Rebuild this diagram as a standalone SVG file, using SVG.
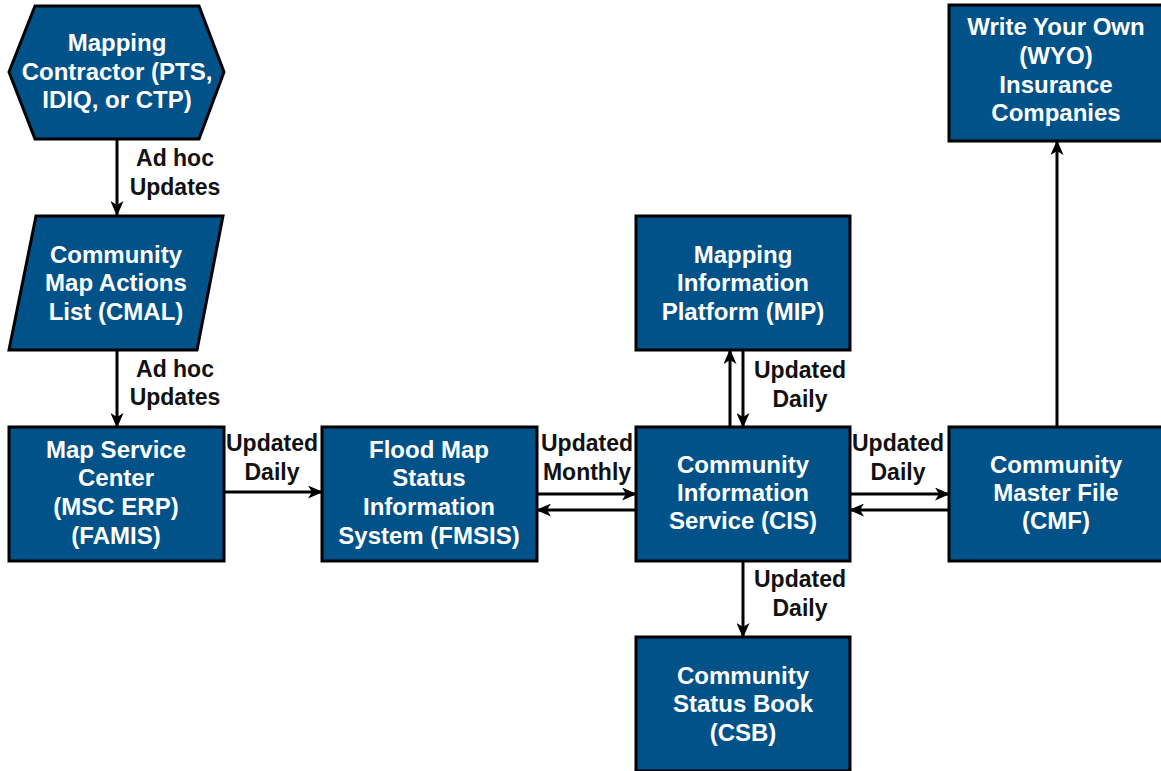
<svg xmlns="http://www.w3.org/2000/svg" width="1161" height="771" viewBox="0 0 1161 771">
<style>
.n{fill:#02528a;stroke:#000;stroke-width:3}
.t{font-family:"Liberation Sans",Arial,sans-serif;font-weight:bold;font-size:24px;fill:#fff;text-anchor:middle}
.l{font-family:"Liberation Sans",Arial,sans-serif;font-weight:bold;font-size:23px;fill:#111;text-anchor:middle}
.c{stroke:#000;stroke-width:3;fill:none;marker-end:url(#a)}
</style>
<defs>
<marker id="a" viewBox="0 0 15 13" refX="14" refY="6.5" markerWidth="15" markerHeight="13" markerUnits="userSpaceOnUse" orient="auto">
<path d="M0,0 L15,6.5 L0,13 L4,6.5 Z" fill="#000"/>
</marker>
</defs>
<rect width="1161" height="771" fill="#fff"/>
<g id="connectors">
<line class="c" x1="117" y1="139" x2="117" y2="215"/>
<line class="c" x1="117" y1="350" x2="117" y2="427"/>
<line class="c" x1="224" y1="492" x2="322" y2="492"/>
<line class="c" x1="537" y1="494" x2="636" y2="494"/>
<line class="c" x1="636" y1="510" x2="537" y2="510"/>
<line class="c" x1="850" y1="494" x2="949" y2="494"/>
<line class="c" x1="949" y1="510" x2="850" y2="510"/>
<line class="c" x1="730" y1="427" x2="730" y2="350"/>
<line class="c" x1="743" y1="350" x2="743" y2="427"/>
<line class="c" x1="743" y1="561" x2="743" y2="637"/>
<line class="c" x1="1057" y1="427" x2="1057" y2="141"/>
<text class="l" x="175" y="166">Ad hoc</text>
<text class="l" x="175" y="195">Updates</text>
<text class="l" x="175" y="377">Ad hoc</text>
<text class="l" x="175" y="405">Updates</text>
<text class="l" x="272" y="451">Updated</text>
<text class="l" x="272" y="480">Daily</text>
<text class="l" x="587" y="451">Updated</text>
<text class="l" x="587" y="480">Monthly</text>
<text class="l" x="898" y="451">Updated</text>
<text class="l" x="898" y="480">Daily</text>
<text class="l" x="800" y="378">Updated</text>
<text class="l" x="800" y="407">Daily</text>
<text class="l" x="800" y="587">Updated</text>
<text class="l" x="800" y="616">Daily</text>
</g>
<g id="mapping-contractor">
<polygon class="n" points="35,6 199,6 224,72 199,139 35,139 9,72"/>
<text class="t" x="117" y="51">Mapping</text>
<text class="t" x="117" y="80">Contractor (PTS,</text>
<text class="t" x="117" y="108">IDIQ, or CTP)</text>
</g>
<g id="cmal">
<polygon class="n" points="36,216 223,216 197,350 9,350"/>
<text class="t" x="116" y="263">Community</text>
<text class="t" x="116" y="291">Map Actions</text>
<text class="t" x="116" y="320">List (CMAL)</text>
</g>
<g id="msc">
<rect class="n" x="9" y="427" width="215" height="134"/>
<text class="t" x="116" y="458">Map Service</text>
<text class="t" x="116" y="486">Center</text>
<text class="t" x="116" y="515">(MSC ERP)</text>
<text class="t" x="116" y="544">(FAMIS)</text>
</g>
<g id="fmsis">
<rect class="n" x="322" y="427" width="215" height="134"/>
<text class="t" x="429" y="458">Flood Map</text>
<text class="t" x="429" y="486">Status</text>
<text class="t" x="429" y="515">Information</text>
<text class="t" x="429" y="544">System (FMSIS)</text>
</g>
<g id="cis">
<rect class="n" x="636" y="427" width="214" height="134"/>
<text class="t" x="743" y="473">Community</text>
<text class="t" x="743" y="501">Information</text>
<text class="t" x="743" y="529">Service (CIS)</text>
</g>
<g id="mip">
<rect class="n" x="636" y="216" width="214" height="134"/>
<text class="t" x="743" y="263">Mapping</text>
<text class="t" x="743" y="291">Information</text>
<text class="t" x="743" y="320">Platform (MIP)</text>
</g>
<g id="csb">
<rect class="n" x="636" y="637" width="214" height="134"/>
<text class="t" x="743" y="684">Community</text>
<text class="t" x="743" y="712">Status Book</text>
<text class="t" x="743" y="741">(CSB)</text>
</g>
<g id="cmf">
<rect class="n" x="949" y="427" width="214" height="134"/>
<text class="t" x="1056" y="473">Community</text>
<text class="t" x="1056" y="501">Master File</text>
<text class="t" x="1056" y="529">(CMF)</text>
</g>
<g id="wyo">
<rect class="n" x="949" y="5" width="214" height="136"/>
<text class="t" x="1056" y="35">Write Your Own</text>
<text class="t" x="1056" y="64">(WYO)</text>
<text class="t" x="1056" y="93">Insurance</text>
<text class="t" x="1056" y="121">Companies</text>
</g>
</svg>
